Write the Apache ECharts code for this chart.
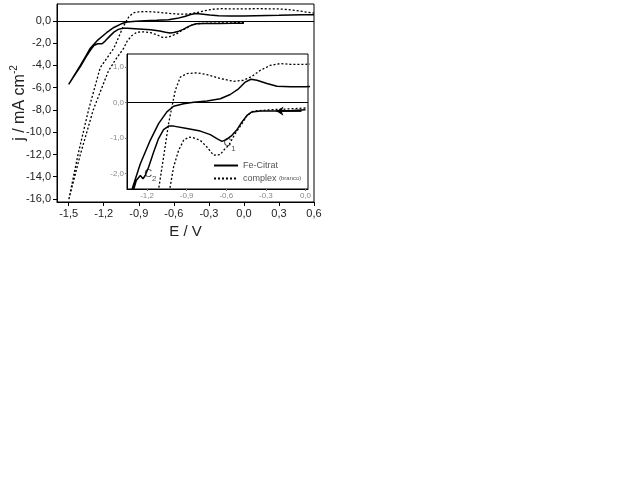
<!DOCTYPE html>
<html><head><meta charset="utf-8">
<script src="https://cdn.jsdelivr.net/npm/echarts@6/dist/echarts.min.js"></script>
<style>html,body{margin:0;padding:0;background:#fff}#c{width:640px;height:480px}</style>
</head><body><div id="c"></div>
<script>
// ---- data (E / V, j / mA cm-2) ----
const feForward = [[0.0,-0.2],[-0.1,-0.22],[-0.216,-0.235],[-0.342,-0.235],[-0.406,-0.26],[-0.443,-0.36],[-0.481,-0.54],[-0.519,-0.76],[-0.557,-0.92],[-0.6,-1.04],[-0.633,-1.09],[-0.671,-1.01],[-0.721,-0.90],[-0.797,-0.80],[-0.898,-0.73],[-0.999,-0.66],[-1.037,-0.66],[-1.075,-0.76],[-1.113,-1.01],[-1.15,-1.39],[-1.188,-1.81],[-1.214,-2.05],[-1.231,-2.14],[-1.251,-2.05],[-1.264,-2.0],[-1.282,-2.19],[-1.302,-2.45],[-1.35,-3.2],[-1.4,-4.1],[-1.45,-4.9],[-1.5,-5.7]];
const feReverse = [[-1.5,-5.7],[-1.45,-4.85],[-1.4,-4.0],[-1.35,-3.1],[-1.315,-2.45],[-1.251,-1.72],[-1.176,-1.06],[-1.113,-0.59],[-1.05,-0.26],[-0.999,-0.10],[-0.923,-0.03],[-0.847,0.01],[-0.746,0.05],[-0.645,0.11],[-0.57,0.23],[-0.507,0.39],[-0.456,0.58],[-0.413,0.66],[-0.368,0.63],[-0.292,0.54],[-0.216,0.46],[-0.115,0.45],[0.0,0.45],[0.1,0.47],[0.3,0.5],[0.5,0.55],[0.6,0.55]];
const cxForward = [[0.0,-0.15],[-0.1,-0.17],[-0.267,-0.2],[-0.393,-0.235],[-0.443,-0.36],[-0.481,-0.59],[-0.532,-0.87],[-0.582,-1.2],[-0.62,-1.34],[-0.645,-1.46],[-0.696,-1.48],[-0.746,-1.25],[-0.797,-1.06],[-0.847,-0.99],[-0.885,-0.97],[-0.923,-1.06],[-0.961,-1.34],[-0.999,-1.81],[-1.029,-2.45],[-1.1,-3.5],[-1.16,-4.5],[-1.29,-8.0],[-1.4,-12.0],[-1.5,-16.1]];
const cxReverse = [[-1.5,-16.1],[-1.42,-12.0],[-1.33,-8.0],[-1.23,-4.2],[-1.15,-3.0],[-1.113,-2.45],[-1.075,-1.53],[-1.037,-0.59],[-1.012,-0.12],[-0.986,0.35],[-0.948,0.72],[-0.898,0.82],[-0.822,0.84],[-0.746,0.79],[-0.645,0.68],[-0.544,0.60],[-0.469,0.63],[-0.406,0.74],[-0.342,0.91],[-0.267,1.05],[-0.191,1.10],[-0.115,1.08],[0.0,1.08],[0.1,1.1],[0.3,1.08],[0.4,1.0],[0.5,0.85],[0.6,0.7]];
const xMainTicks = [-1.5,-1.2,-0.9,-0.6,-0.3,0,0.3,0.6];
const yMainTicks = [-16,-14,-12,-10,-8,-6,-4,-2,0];
const xInsetTicks = [-1.2,-0.9,-0.6,-0.3,0];
const yInsetTicks = [-2,-1,0,1];
const seriesNames = ['Fe-Citrat','complex'];
const peakLabels = [[-0.575,-1.2,'1'],[-1.175,-2.05,'2']];
const arrowCoords = [[-0.03,-0.24],[-0.22,-0.24]];

const fe = feForward.concat(feReverse);
const cx = cxForward.concat(cxReverse);
const FONT = 'Liberation Sans, Arial, sans-serif';
const fmt = v => (Math.abs(v) < 1e-9 ? 0 : v).toFixed(1).replace('.', ',');

function axis(grid, min, max, ticks, main, extra) {
  return Object.assign({
    gridIndex: grid, type: 'value', min: min, max: max,
    splitLine: {show: false},
    axisLine: {show: true, onZero: false, lineStyle: {color: '#000', width: 1}},
    axisTick: {show: true, customValues: ticks, length: main ? 4 : 2, lineStyle: {color: main ? '#000' : '#777'}},
    axisLabel: {customValues: ticks, formatter: fmt, color: main ? '#222' : '#888',
      fontSize: main ? 11 : 8, fontFamily: FONT, margin: main ? 6 : 3}
  }, extra || {});
}

const lineS = (name, data, xi, dotted) => ({
  name: name, type: 'line', xAxisIndex: xi, yAxisIndex: xi, data: data,
  symbol: 'none', showSymbol: false, clip: true, animation: false,
  lineStyle: {color: '#000', width: dotted ? 1.3 : 1.5, type: dotted ? [2, 2] : 'solid'},
  itemStyle: {color: '#000'},
  markLine: {silent: true, symbol: ['none', 'none'], label: {show: false},
    lineStyle: {color: '#000', width: 1, type: 'solid'}, data: [{yAxis: 0}]}
});

const chart = echarts.init(document.getElementById('c'), null, {renderer: 'canvas'});
chart.setOption({
  animation: false,
  backgroundColor: '#fff',
  textStyle: {fontFamily: FONT},
  grid: [
    {left: 57, top: 4, width: 257, height: 198, show: true, borderColor: '#000', borderWidth: 1},
    {left: 127, top: 54, width: 181, height: 135, show: true, borderColor: '#000', borderWidth: 1, backgroundColor: '#fff'}
  ],
  xAxis: [
    axis(0, -1.6, 0.6, xMainTicks, true, {name: 'E / V', nameLocation: 'middle', nameGap: 22,
      nameTextStyle: {fontSize: 15, color: '#222', fontFamily: FONT}}),
    axis(1, -1.352, 0.019, xInsetTicks, false)
  ],
  yAxis: [
    axis(0, -16.27, 1.52, yMainTicks, true, {name: '{a|j / mA cm}{s|-2}', nameLocation: 'middle', nameGap: 29,
      nameRotate: 90, nameMoveOverlap: false,
      nameTextStyle: {color: '#222', fontFamily: FONT,
        rich: {a: {fontSize: 16, color: '#222', fontFamily: FONT, verticalAlign: 'bottom'},
               s: {fontSize: 10, color: '#222', fontFamily: FONT, verticalAlign: 'bottom', padding: [0, 0, 9, 0]}}}}),
    axis(1, -2.43, 1.37, yInsetTicks, false)
  ],
  legend: {
    show: true, data: seriesNames, orient: 'vertical', left: 208, top: 156,
    itemWidth: 24, itemHeight: 8, itemGap: 4, selectedMode: false,
    itemStyle: {opacity: 0, borderWidth: 0},
    formatter: n => n === 'complex' ? '{a|complex} {b|(branco)}' : '{a|' + n + '}',
    textStyle: {color: '#555', fontFamily: FONT, fontSize: 9,
      rich: {a: {fontSize: 9, color: '#555', fontFamily: FONT}, b: {fontSize: 6, color: '#555', fontFamily: FONT}}}
  },
  series: [
    lineS('Fe-Citrat', fe, 0, false),
    lineS('complex', cx, 0, true),
    lineS('Fe-Citrat', fe, 1, false),
    lineS('complex', cx, 1, true),
    {type: 'scatter', xAxisIndex: 1, yAxisIndex: 1, symbolSize: 0, silent: true,
      data: peakLabels.map(p => [p[0], p[1], p[2]]),
      label: {show: true, position: 'inside',
        formatter: p => '{c|C}{s|' + p.data[2] + '}',
        rich: {c: {fontSize: 11, color: '#222', fontFamily: FONT, verticalAlign: 'bottom', padding: [0, 0, 4, 0]},
               s: {fontSize: 8, color: '#222', fontFamily: FONT, verticalAlign: 'bottom'}}}},
    {type: 'lines', coordinateSystem: 'cartesian2d', xAxisIndex: 1, yAxisIndex: 1, silent: true,
      symbol: ['none', 'arrow'], symbolSize: 7,
      lineStyle: {color: '#000', width: 1.8, opacity: 1},
      data: [{coords: arrowCoords}]}
  ]
});
</script></body></html>
